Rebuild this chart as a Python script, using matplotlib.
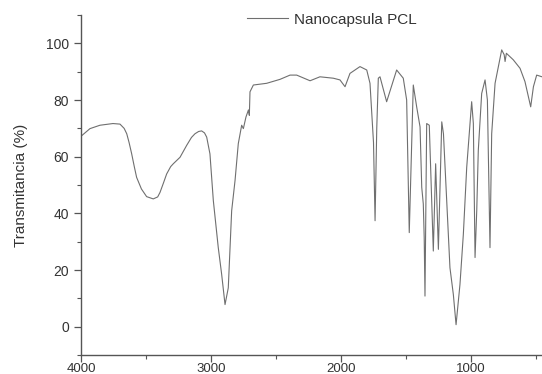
import matplotlib
matplotlib.use("Agg")
import matplotlib.pyplot as plt
from matplotlib.ticker import MultipleLocator

# FTIR spectrum
wavenumber = [4000, 3931, 3854, 3754, 3700, 3668, 3648, 3630, 3610, 3590, 3572,
              3535, 3495, 3444, 3410, 3392, 3365, 3341, 3310, 3290, 3238, 3187,
              3150, 3123, 3095, 3072, 3050, 3033, 3008, 2982, 2944, 2918, 2892,
              2867, 2841, 2815, 2790, 2764, 2751, 2731, 2712, 2705, 2700, 2674,
              2572, 2469, 2392, 2341, 2238, 2162, 2059, 2008, 1969, 1931, 1854,
              1802, 1777, 1750, 1738, 1725, 1713, 1700, 1649, 1572, 1521, 1495,
              1475, 1444, 1418, 1392, 1379, 1367, 1360, 1354, 1341, 1321, 1290,
              1272, 1251, 1225, 1212, 1187, 1162, 1136, 1115, 1085, 1059, 1033,
              995, 982, 969, 956, 944, 918, 892, 874, 854, 841, 815, 764, 745,
              738, 728, 675, 623, 585, 541, 520, 495, 454]
transmit = [67.2, 69.9, 71.1, 71.7, 71.5, 70.0, 68.1, 65.0, 61.0, 56.5, 52.7,
            48.6, 45.9, 45.1, 45.8, 47.4, 50.8, 53.9, 56.5, 57.5, 59.8, 64.0,
            66.8, 68.1, 68.9, 69.1, 68.4, 66.9, 61.0, 44.5, 27.9, 18.5, 7.8,
            13.7, 40.9, 51.6, 64.6, 71.1, 69.9, 74.0, 76.5, 74.6, 82.9, 85.3,
            85.9, 87.3, 88.8, 88.8, 86.8, 88.2, 87.7, 87.1, 84.7, 89.4, 91.8,
            90.6, 85.9, 65.0, 37.4, 70.0, 87.7, 88.2, 79.4, 90.6, 87.7, 80.0,
            33.2, 85.3, 77.6, 70.5, 49.2, 43.3, 31.4, 10.8, 71.7, 71.1, 26.7,
            57.5, 27.3, 72.3, 68.1, 44.5, 20.8, 11.4, 0.7, 14.9, 32.6, 56.3,
            79.4, 71.7, 24.4, 40.9, 62.2, 82.3, 87.1, 80.0, 27.9, 68.1, 85.9,
            97.7, 96.0, 93.6, 96.5, 94.2, 91.2, 86.5, 77.6, 84.7, 88.8, 88.2]

plt.rcParams['font.family'] = ['Liberation Sans', 'DejaVu Sans']

fig = plt.figure(figsize=(5.42, 3.74), dpi=100)
ax = fig.add_axes([0.1494, 0.0508, 0.8506, 0.909])

ax.plot(wavenumber, transmit, color='#6f6f6f', linewidth=0.8, label='Nanocapsula PCL')

ax.set_xlim(4000, 454)
ax.set_ylim(-10, 110)
ax.xaxis.set_major_locator(MultipleLocator(1000))
ax.xaxis.set_minor_locator(MultipleLocator(500))
ax.yaxis.set_minor_locator(MultipleLocator(10))
ax.set_yticks([0, 20, 40, 60, 80, 100])

for side in ['top', 'right']:
    ax.spines[side].set_visible(False)
for side in ['left', 'bottom']:
    ax.spines[side].set_color('#555555')
    ax.spines[side].set_linewidth(1.0)

ax.tick_params(which='major', direction='out', length=5, width=0.9,
               colors='#555555', labelcolor='#333333', labelsize=10)
ax.tick_params(which='minor', direction='out', length=3, width=0.8, colors='#555555')
ax.tick_params(axis='x', which='major', pad=1, labelsize=9.5)

ax.set_ylabel('Transmitancia (%)', fontsize=11, color='#333333', labelpad=13)

ax.legend(loc='center left', bbox_to_anchor=(0.455, 0.947), bbox_transform=fig.transFigure,
          frameon=False, fontsize=11, handlelength=2.7, handletextpad=0.4,
          borderpad=0, borderaxespad=0, labelcolor='#333333')

fig.savefig('out.png', dpi=100)
